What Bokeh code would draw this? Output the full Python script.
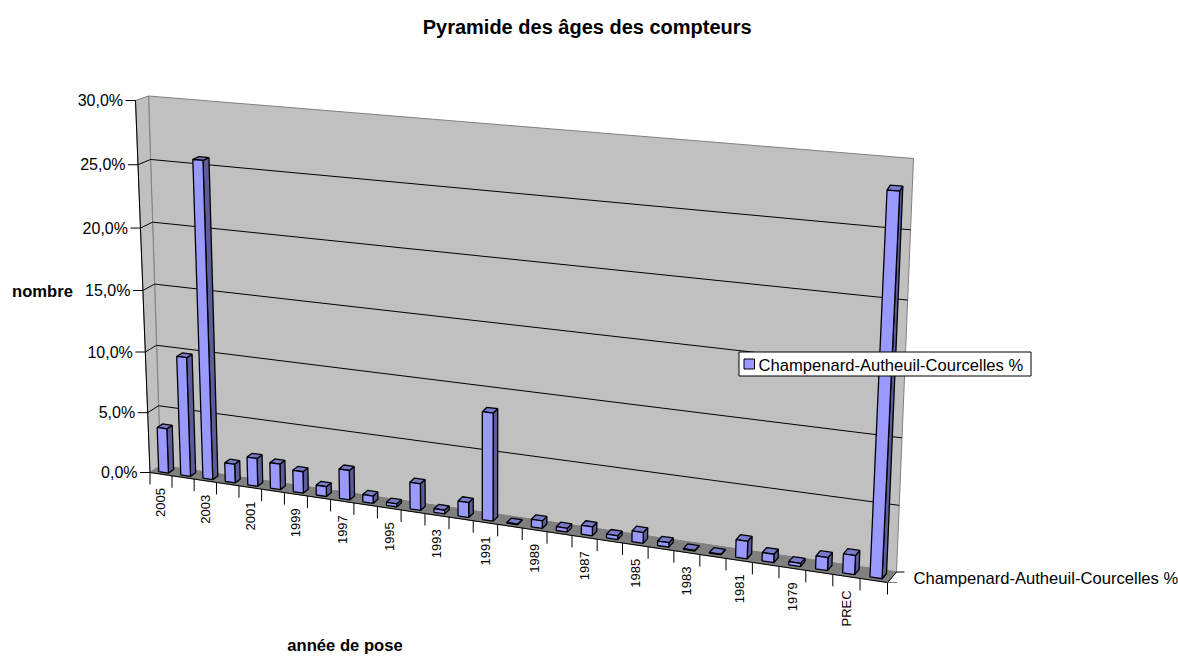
import numpy as np
from bokeh.plotting import figure
from bokeh.embed import file_html
from bokeh.resources import INLINE
from bokeh.core.properties import value

title = "Pyramide des âges des compteurs"
y_title = "nombre"
x_title = "année de pose"
series_name = "Champenard-Autheuil-Courcelles %"
categories = ["2005", "2004", "2003", "2002", "2001", "2000", "1999", "1998", "1997", "1996",
              "1995", "1994", "1993", "1992", "1991", "1990", "1989", "1988", "1987", "1986",
              "1985", "1984", "1983", "1982", "1981", "1980", "1979", "1978", "PREC", ""]
labelled = ["2005", "2003", "2001", "1999", "1997", "1995", "1993", "1991", "1989", "1987",
            "1985", "1983", "1981", "1979", "PREC"]
percent = [3.7, 9.8, 25.7, 1.55, 2.3, 2.1, 1.75, 0.8, 2.4, 0.6,
           0.25, 2.15, 0.3, 1.2, 8.55, 0.05, 0.6, 0.3, 0.7, 0.3,
           0.85, 0.35, 0.05, 0.05, 1.35, 0.65, 0.25, 1.0, 1.45, 28.2]
y_ticks = [0, 5, 10, 15, 20, 25, 30]
y_labels = ["0,0%", "5,0%", "10,0%", "15,0%", "20,0%", "25,0%", "30,0%"]
Y_MAX = 30.0

WALL = "#C0C0C0"
FLOOR = "#808080"
EDGE = "#808080"
FRONT = "#9999FF"
TOP = "#7A7ACC"
SIDE = "#5C5C99"
FONT = "Liberation Sans"


def homography(c):
    # maps (u, v) of the unit square to the quad c = [(0,0), (1,0), (1,1), (0,1)]
    A, b = [], []
    for (u, v), (x, y) in zip([(0, 0), (1, 0), (1, 1), (0, 1)], c):
        A.append([u, v, 1, 0, 0, 0, -u * x, -v * x]); b.append(x)
        A.append([0, 0, 0, u, v, 1, -u * y, -v * y]); b.append(y)
    return np.append(np.linalg.solve(np.array(A, float), np.array(b, float)), 1).reshape(3, 3)


# corners in page pixels: bottom-left, bottom-right, top-right, top-left
H_FRONT = homography([(149.5, 472), (887, 582), (907, 168), (135, 100)])
H_BACK = homography([(160, 465), (896, 571.5), (913, 158), (148, 95.5)])


def project(u, pct, w=0.0):
    """u: 0..1 along categories, pct: value axis, w: 0 front .. 1 back"""
    q = np.array([u, pct / Y_MAX, 1.0])
    a = H_FRONT @ q
    b = H_BACK @ q
    a = a[:2] / a[2]
    b = b[:2] / b[2]
    return tuple(a + (b - a) * w)


def poly(*pts):
    return [p[0] for p in pts], [p[1] for p in pts]


p = figure(width=1178, height=656, output_backend="svg", toolbar_location=None,
           x_range=(0, 1178), y_range=(656, 0), min_border=0)
p.axis.visible = False
p.grid.visible = False
p.outline_line_color = None

n = len(categories)

# walls and floor
xs, ys = poly(project(0, 0, 1), project(1, 0, 1), project(1, Y_MAX, 1), project(0, Y_MAX, 1))
p.patch(xs, ys, fill_color=WALL, line_color=EDGE, line_width=1)
xs, ys = poly(project(0, 0, 0), project(0, 0, 1), project(0, Y_MAX, 1), project(0, Y_MAX, 0))
p.patch(xs, ys, fill_color=WALL, line_color=EDGE, line_width=1)
xs, ys = poly(project(0, 0, 0), project(1, 0, 0), project(1, 0, 1), project(0, 0, 1))
p.patch(xs, ys, fill_color=FLOOR, line_color=EDGE, line_width=1)

# gridlines on side wall and back wall
for t in y_ticks[1:-1]:
    a, b, c = project(0, t, 0), project(0, t, 1), project(1, t, 1)
    p.line([a[0], b[0], c[0]], [a[1], b[1], c[1]], line_color="#000000", line_width=1)

# axis lines
a, b = project(0, 0, 0), project(0, Y_MAX, 0)
p.line([a[0], b[0]], [a[1], b[1]], line_color="#000000", line_width=1)
a, b = project(0, 0, 0), project(1, 0, 0)
p.line([a[0], b[0]], [a[1], b[1]], line_color="#000000", line_width=1)
a, b = project(1, 0, 0), project(1, 0, 1)
p.line([a[0], b[0]], [a[1], b[1]], line_color="#000000", line_width=1)

# value ticks and labels
tx0, ty0, tx1, lx, ly = [], [], [], [], []
for t in y_ticks:
    x, y = project(0, t, 0)
    tx0.append(x); ty0.append(y); tx1.append(x - 10); lx.append(x - 12.5); ly.append(y)
p.segment(tx0, ty0, tx1, ty0, line_color="#000000", line_width=1)
p.text(lx, ly, text=y_labels, text_font=value(FONT), text_font_size="16px",
       text_align="right", text_baseline="middle", text_color="#000000")

# category ticks
cx, cy = zip(*[project(i / n, 0, 0) for i in range(n + 1)])
p.segment(cx, cy, cx, [y + 12 for y in cy], line_color="#000000", line_width=1)

# category labels
lab_x, lab_y, lab_t = [], [], []
for c in labelled:
    i = categories.index(c)
    x, y = project((i + 0.5) / n, 0, 0)
    lab_x.append(x); lab_y.append(y + 14); lab_t.append(c)
p.text(lab_x, lab_y, text=lab_t, angle=np.pi / 2, text_font=value(FONT), text_font_size="13px",
       text_align="right", text_baseline="middle", text_color="#000000")

# series axis ticks and label
a, b = project(1, 0, 0), project(1, 0, 1)
p.segment([a[0], b[0]], [a[1], b[1]], [a[0] + 10, b[0] + 8], [a[1], b[1]],
          line_color=[EDGE, "#000000"], line_width=1)
p.text([913], [578], text=[series_name], text_font=value(FONT), text_font_size="16.6px",
       text_align="left", text_baseline="alphabetic", text_color="#000000")

# 3-D bars
U0, U1, W0, W1 = 0.28, 0.72, 0.25, 0.75
fx, fy, sx, sy, ux, uy = [], [], [], [], [], []
for i, v in enumerate(percent):
    a = (i + U0) / n
    b = (i + U1) / n
    x, y = poly(project(a, 0, W0), project(b, 0, W0), project(b, v, W0), project(a, v, W0))
    fx.append(x); fy.append(y)
    x, y = poly(project(b, 0, W0), project(b, 0, W1), project(b, v, W1), project(b, v, W0))
    sx.append(x); sy.append(y)
    x, y = poly(project(a, v, W0), project(b, v, W0), project(b, v, W1), project(a, v, W1))
    ux.append(x); uy.append(y)
p.patches(sx, sy, fill_color=SIDE, line_color="#000000", line_width=1.3)
p.patches(ux, uy, fill_color=TOP, line_color="#000000", line_width=1.3)
p.patches(fx, fy, fill_color=FRONT, line_color="#000000", line_width=1.3)

# titles
p.text([586.7], [26], text=[title], text_font=value(FONT), text_font_size="20px",
       text_font_style="bold", text_align="center", text_baseline="alphabetic", text_color="#000000")
p.text([42], [291], text=[y_title], text_font=value(FONT), text_font_size="16.6px",
       text_font_style="bold", text_align="center", text_baseline="alphabetic", text_color="#000000")
p.text([344.5], [645], text=[x_title], text_font=value(FONT), text_font_size="16.6px",
       text_font_style="bold", text_align="center", text_baseline="alphabetic", text_color="#000000")

# legend
p.quad(left=[738.5], right=[1030.5], top=[351.5], bottom=[375.5], fill_color="#FFFFFF",
       line_color="#000000", line_width=1)
p.quad(left=[743.5], right=[754], top=[358.5], bottom=[368.5], fill_color=FRONT,
       line_color="#000000", line_width=1)
p.text([758], [364.5], text=[series_name], text_font=value(FONT), text_font_size="16.6px",
       text_align="left", text_baseline="alphabetic", text_color="#000000")

open("out.html", "w").write(file_html(p, INLINE))
